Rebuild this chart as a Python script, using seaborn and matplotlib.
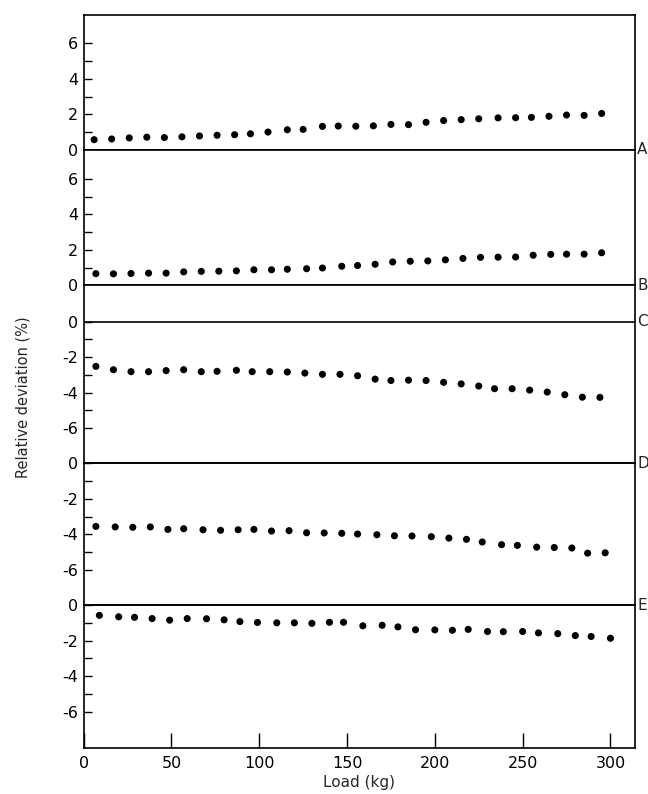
# -*- coding: utf-8 -*-

import numpy as np
import pandas as pd
import matplotlib
matplotlib.use("Agg")
import matplotlib.pyplot as plt
import seaborn as sns

# values (load in kg, relative deviation in %)
load_a = [6, 16, 26, 36, 46, 56, 66, 76, 86, 95, 105, 116, 125, 136, 145,
          155, 165, 175, 185, 195, 205, 215, 225, 236, 246, 255, 265, 275, 285, 295]
dev_a = [0.57, 0.61, 0.67, 0.71, 0.69, 0.73, 0.78, 0.82, 0.85, 0.90, 1.00, 1.13, 1.15, 1.32, 1.34,
         1.33, 1.35, 1.43, 1.42, 1.55, 1.65, 1.70, 1.75, 1.80, 1.81, 1.83, 1.89, 1.96, 1.94, 2.05]

load_b = [7, 17, 27, 37, 47, 57, 67, 77, 87, 97, 107, 116, 127, 136, 147,
          156, 166, 176, 186, 196, 206, 216, 226, 236, 246, 256, 266, 275, 285, 295]
dev_b = [0.66, 0.65, 0.67, 0.69, 0.69, 0.76, 0.79, 0.80, 0.82, 0.88, 0.88, 0.91, 0.94, 0.98, 1.08,
         1.12, 1.19, 1.32, 1.36, 1.38, 1.44, 1.52, 1.58, 1.59, 1.60, 1.70, 1.75, 1.76, 1.76, 1.84]

load_c = [7, 17, 27, 37, 47, 57, 67, 76, 87, 96, 106, 116, 126, 136, 146,
          156, 166, 175, 185, 195, 205, 215, 225, 234, 244, 254, 264, 274, 284, 294]
dev_c = [-2.52, -2.71, -2.82, -2.82, -2.76, -2.71, -2.82, -2.80, -2.74, -2.82, -2.82, -2.84, -2.90, -2.97, -2.97,
         -3.05, -3.24, -3.32, -3.30, -3.32, -3.42, -3.51, -3.63, -3.78, -3.78, -3.86, -3.97, -4.12, -4.26, -4.27]

load_d = [7, 18, 28, 38, 48, 57, 68, 78, 88, 97, 107, 117, 127, 137, 147,
          156, 167, 177, 187, 198, 208, 218, 227, 238, 247, 258, 268, 278, 287, 297]
dev_d = [-3.55, -3.58, -3.60, -3.58, -3.72, -3.68, -3.74, -3.77, -3.74, -3.72, -3.81, -3.79, -3.91, -3.92, -3.94,
         -3.98, -4.02, -4.08, -4.09, -4.13, -4.21, -4.28, -4.43, -4.58, -4.62, -4.72, -4.74, -4.77, -5.06, -5.04]

load_e = [9, 20, 29, 39, 49, 59, 70, 80, 89, 99, 110, 120, 130, 140, 148,
          159, 170, 179, 189, 200, 210, 219, 230, 239, 250, 259, 270, 280, 289, 300]
dev_e = [-0.57, -0.65, -0.68, -0.75, -0.84, -0.75, -0.76, -0.82, -0.92, -0.97, -0.99, -0.99, -1.02, -0.96, -0.96,
         -1.16, -1.13, -1.22, -1.38, -1.39, -1.41, -1.36, -1.48, -1.49, -1.48, -1.56, -1.60, -1.71, -1.76, -1.86]

curves = ["A", "B", "C", "D", "E"]
loads = [load_a, load_b, load_c, load_d, load_e]
devs = [dev_a, dev_b, dev_c, dev_d, dev_e]

# y-range of each strip, major/minor ticks
ylims = [(0, 7.6), (0, 7.65), (-8, 2.05), (-8, 0), (-8.05, 0)]
heights = [hi - lo for lo, hi in ylims]

sns.set_style("ticks")
plt.rcParams['font.family'] = ['DejaVu Sans']
plt.rcParams['axes.unicode_minus'] = False

fig, axes = plt.subplots(5, 1, figsize=(6.48, 7.94), dpi=100, sharex=True,
                         gridspec_kw={'height_ratios': heights})
fig.subplots_adjust(left=0.129, right=0.980, top=0.981, bottom=0.058, hspace=0)

for ax, name, x, y, (lo, hi) in zip(axes, curves, loads, devs, ylims):
    df = pd.DataFrame({'load': x, 'dev': y})
    sns.scatterplot(data=df, x='load', y='dev', ax=ax, color='black',
                    s=26, edgecolor='none', linewidth=0, legend=False)
    ax.set_ylim(lo, hi)
    ax.set_xlim(0, 314)
    if lo < 0:
        ax.set_yticks([0, -2, -4, -6])
        ax.set_yticks([-1, -3, -5], minor=True)
    else:
        ax.set_yticks([0, 2, 4, 6])
        ax.set_yticks([1, 3, 5], minor=True)
    ax.axhline(0, color='black', lw=1.2)
    for side in ax.spines.values():
        side.set_linewidth(1.2)
        side.set_color('black')
    ax.tick_params(axis='y', which='both', direction='in', length=6, width=1,
                   labelsize=11.5, pad=4, colors='black')
    ax.tick_params(axis='x', which='both', bottom=False, labelbottom=False)
    ax.set_xlabel('')
    ax.set_ylabel('')
    ax.text(1.004, 0, name, transform=ax.get_yaxis_transform(),
            ha='left', va='center', fontsize=11)

axes[-1].set_xticks(np.arange(0, 301, 50))
axes[-1].tick_params(axis='x', bottom=True, labelbottom=True, direction='in',
                     length=11, width=1, labelsize=11.5, pad=6, colors='black')
axes[-1].set_xlabel('Load (kg)', fontsize=11, labelpad=3)

fig.text(0.036, 0.5, 'Relative deviation (%)', rotation=90,
         ha='center', va='center', fontsize=10.5)

fig.savefig('out.png', dpi=100)
